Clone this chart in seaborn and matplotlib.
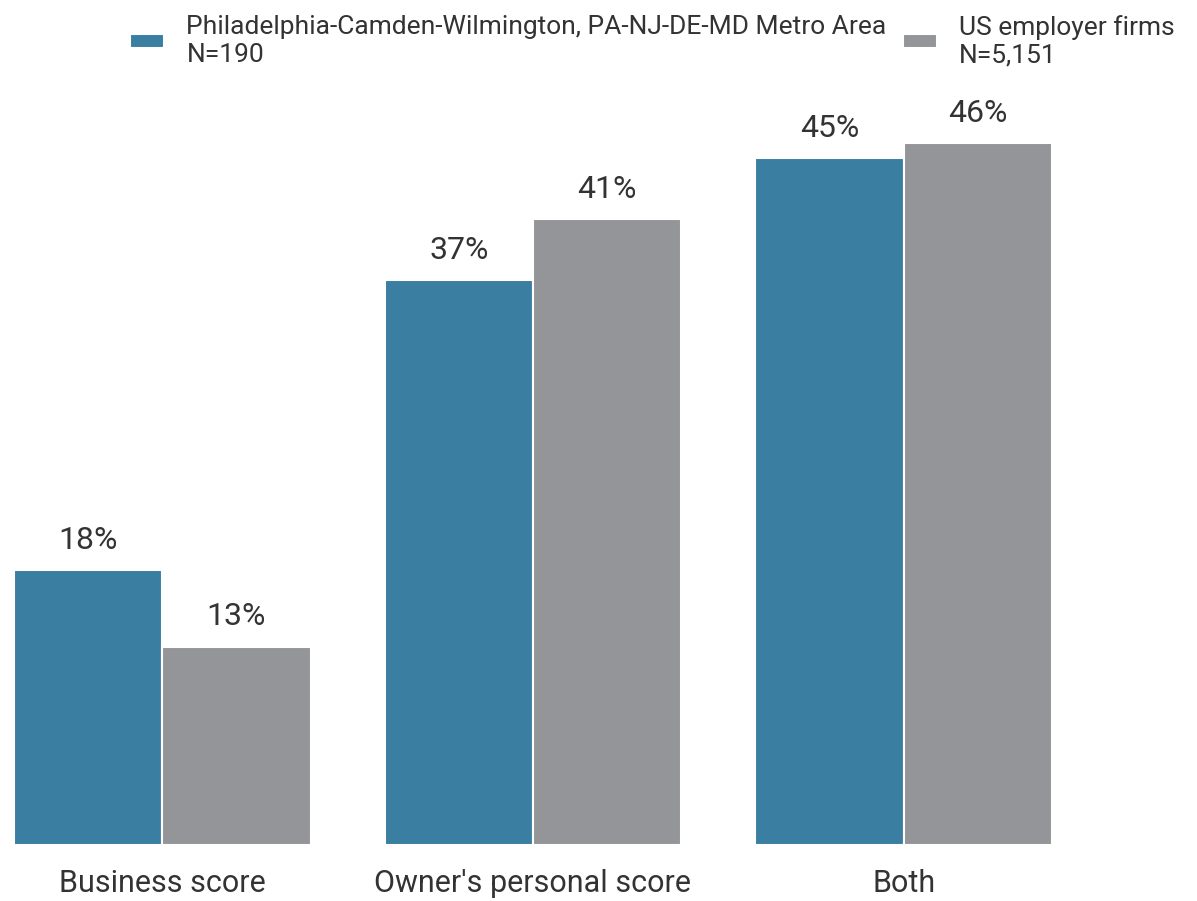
import matplotlib
matplotlib.use("Agg")
import matplotlib.pyplot as plt
import seaborn as sns
import pandas as pd

categories = ["Business score", "Owner's personal score", "Both"]
series_names = ["Philadelphia-Camden-Wilmington, PA-NJ-DE-MD Metro Area\nN=190",
                "US employer firms\nN=5,151"]
philly_values = [18, 37, 45]
us_values = [13, 41, 46]
colors = ["#3a7ea1", "#939598"]

df = pd.DataFrame({
    "category": categories * 2,
    "series": [series_names[0]] * 3 + [series_names[1]] * 3,
    "value": philly_values + us_values,
})

sns.set_theme(style="white")
plt.rcParams["font.family"] = ["Roboto", "DejaVu Sans"]

fig = plt.figure(figsize=(11.97, 9.01), dpi=100)
ax = fig.add_axes([14 / 1197, 56 / 901, 1038 / 1197, 766 / 901])

sns.barplot(data=df, x="category", y="value", hue="series", order=categories,
            hue_order=series_names, palette=colors, width=0.8, ax=ax,
            edgecolor="white", linewidth=1.5, saturation=1)

for cont in ax.containers:
    ax.bar_label(cont, labels=[f"{v:.0f}%" for v in cont.datavalues],
                 padding=11, fontsize=23, color="#333333")

ax.set_xlim(-0.4, 2.4)
ax.set_ylim(0, 50.2)
ax.set_xlabel("")
ax.set_ylabel("")
ax.set_yticks([])
ax.tick_params(axis="x", labelsize=22, colors="#333333", pad=17, length=0)
for s in ax.spines.values():
    s.set_visible(False)

handles, labels = ax.get_legend_handles_labels()
ax.get_legend().remove()
fig.legend(handles, labels, loc="upper left", bbox_to_anchor=(106 / 1197, 1.01),
           ncol=2, frameon=False, fontsize=19, handlelength=1.3, handleheight=0.45,
           columnspacing=0.6, handletextpad=0.85, labelcolor="#333333",
           labelspacing=0.2)

fig.savefig("out.png", dpi=100)
